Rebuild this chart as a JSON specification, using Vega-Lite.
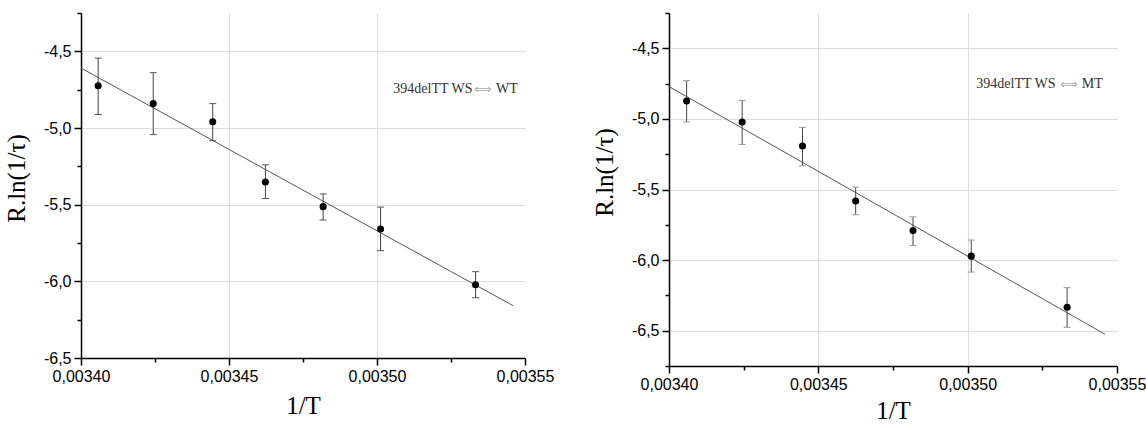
{
  "$schema": "https://vega.github.io/schema/vega-lite/v6.json",
  "background": "white",
  "padding": {"left": 4, "top": 12, "right": 0, "bottom": 0},
  "spacing": 38,
  "config": {
    "view": {"stroke": null},
    "axis": {
      "domainColor": "#000000", "domainWidth": 1.5,
      "tickColor": "#000000", "tickWidth": 1.5, "tickSize": 7,
      "labelFont": "Liberation Sans", "labelFontSize": 16, "labelColor": "#000000", "labelPadding": 3,
      "labelFlush": false, "labelOverlap": false,
      "titleFont": "Liberation Serif", "titleFontSize": 25, "titleFontWeight": "normal", "titleColor": "#000000",
      "gridColor": "#dddddd", "gridWidth": 1
    }
  },
  "datasets": {
    "wt": [
      {"x": 0.0034058, "y": -4.724, "lo": -4.912, "hi": -4.544},
      {"x": 0.0034244, "y": -4.841, "lo": -5.043, "hi": -4.639},
      {"x": 0.0034445, "y": -4.959, "lo": -5.083, "hi": -4.841},
      {"x": 0.0034623, "y": -5.352, "lo": -5.46, "hi": -5.24},
      {"x": 0.0034818, "y": -5.513, "lo": -5.6, "hi": -5.43},
      {"x": 0.0035012, "y": -5.659, "lo": -5.8, "hi": -5.516},
      {"x": 0.0035333, "y": -6.022, "lo": -6.107, "hi": -5.937}
    ],
    "mt": [
      {"x": 0.0034059, "y": -4.873, "lo": -5.022, "hi": -4.729},
      {"x": 0.0034245, "y": -5.022, "lo": -5.181, "hi": -4.869},
      {"x": 0.0034447, "y": -5.192, "lo": -5.332, "hi": -5.06},
      {"x": 0.0034625, "y": -5.582, "lo": -5.679, "hi": -5.483},
      {"x": 0.0034817, "y": -5.791, "lo": -5.897, "hi": -5.694},
      {"x": 0.0035012, "y": -5.972, "lo": -6.085, "hi": -5.858},
      {"x": 0.0035333, "y": -6.334, "lo": -6.476, "hi": -6.195}
    ],
    "fitwt": [{"x": 0.0034, "y": -4.609}, {"x": 0.003546, "y": -6.159}],
    "fitmt": [{"x": 0.0034, "y": -4.771}, {"x": 0.003546, "y": -6.525}],
    "labwt": [
      {"x": 0.0035055, "y": -4.774, "text": "394delTT WS", "part": "name"},
      {"x": 0.0035328, "y": -4.774, "text": "⟺", "part": "arrow"},
      {"x": 0.0035402, "y": -4.774, "text": "WT", "part": "name"}
    ],
    "labmt": [
      {"x": 0.0035029, "y": -4.784, "text": "394delTT WS", "part": "name"},
      {"x": 0.003531, "y": -4.784, "text": "⟺", "part": "arrow"},
      {"x": 0.0035382, "y": -4.784, "text": "MT", "part": "name"}
    ]
  },
  "hconcat": [
    {
      "width": 444, "height": 345,
      "resolve": {"axis": {"x": "independent", "y": "independent"}},
      "layer": [
        {
          "data": {"name": "fitwt"},
          "mark": {"type": "line", "color": "#555555", "strokeWidth": 1},
          "encoding": {
            "x": {"field": "x", "type": "quantitative", "scale": {"domain": [0.0034, 0.00355], "nice": false, "zero": false}, "axis": null},
            "y": {"field": "y", "type": "quantitative", "scale": {"domain": [-6.5, -4.25], "nice": false, "zero": false}, "axis": null}
          }
        },
        {
          "data": {"name": "wt"},
          "mark": {"type": "rule", "color": "#444444", "strokeWidth": 1},
          "encoding": {
            "x": {"field": "x", "type": "quantitative", "scale": {"domain": [0.0034, 0.00355], "nice": false, "zero": false},
                  "axis": {"orient": "bottom", "values": [0.003425, 0.003475, 0.003525], "labels": false, "grid": false, "domain": false, "tickSize": 4, "title": null}},
            "y": {"field": "lo", "type": "quantitative", "scale": {"domain": [-6.5, -4.25], "nice": false, "zero": false},
                  "axis": {"orient": "left", "values": [-4.25, -4.75, -5.25, -5.75, -6.25], "labels": false, "grid": false, "domain": false, "tickSize": 4, "title": null}},
            "y2": {"field": "hi"}
          }
        },
        {
          "data": {"name": "wt"},
          "mark": {"type": "tick", "orient": "horizontal", "size": 7, "thickness": 1, "color": "#555555", "opacity": 1},
          "encoding": {
            "x": {"field": "x", "type": "quantitative", "scale": {"domain": [0.0034, 0.00355], "nice": false, "zero": false}, "axis": null},
            "y": {"field": "lo", "type": "quantitative", "scale": {"domain": [-6.5, -4.25], "nice": false, "zero": false}, "axis": null}
          }
        },
        {
          "data": {"name": "wt"},
          "mark": {"type": "tick", "orient": "horizontal", "size": 7, "thickness": 1, "color": "#555555", "opacity": 1},
          "encoding": {
            "x": {"field": "x", "type": "quantitative", "scale": {"domain": [0.0034, 0.00355], "nice": false, "zero": false}, "axis": null},
            "y": {"field": "hi", "type": "quantitative", "scale": {"domain": [-6.5, -4.25], "nice": false, "zero": false}, "axis": null}
          }
        },
        {
          "data": {"name": "wt"},
          "mark": {"type": "point", "shape": "circle", "filled": true, "color": "#000000", "size": 50, "opacity": 1},
          "encoding": {
            "x": {"field": "x", "type": "quantitative", "scale": {"domain": [0.0034, 0.00355], "nice": false, "zero": false},
                  "axis": {"orient": "bottom", "values": [0.0034, 0.00345, 0.0035, 0.00355], "labelExpr": "replace(format(datum.value, '.5f'), '.', ',')",
                           "title": "1/T", "titlePadding": 9, "grid": true,
                           "gridOpacity": {"condition": {"test": "datum.value > 0.003545 || datum.value < 0.003405", "value": 0}, "value": 1}}},
            "y": {"field": "y", "type": "quantitative", "scale": {"domain": [-6.5, -4.25], "nice": false, "zero": false},
                  "axis": {"orient": "left", "values": [-4.5, -5, -5.5, -6, -6.5], "labelExpr": "replace(replace(format(datum.value, '.1f'), '.', ','), '\u2212', '-')",
                           "title": "R.ln(1/τ)", "titlePadding": 14, "titleY": 165, "grid": true}}
          }
        },
        {
          "data": {"name": "labwt"},
          "transform": [{"filter": "datum.part == 'name'"}],
          "mark": {"type": "text", "align": "left", "baseline": "alphabetic", "font": "Liberation Serif", "fontSize": 14, "color": "#333333"},
          "encoding": {
            "x": {"field": "x", "type": "quantitative", "scale": {"domain": [0.0034, 0.00355], "nice": false, "zero": false}, "axis": null},
            "y": {"field": "y", "type": "quantitative", "scale": {"domain": [-6.5, -4.25], "nice": false, "zero": false}, "axis": null},
            "text": {"field": "text"}
          }
        },
        {
          "data": {"name": "labwt"},
          "transform": [{"filter": "datum.part == 'arrow'"}],
          "mark": {"type": "text", "align": "left", "baseline": "alphabetic", "font": "DejaVu Sans", "fontSize": 12, "color": "#aaaaaa"},
          "encoding": {
            "x": {"field": "x", "type": "quantitative", "scale": {"domain": [0.0034, 0.00355], "nice": false, "zero": false}, "axis": null},
            "y": {"field": "y", "type": "quantitative", "scale": {"domain": [-6.5, -4.25], "nice": false, "zero": false}, "axis": null},
            "text": {"field": "text"}
          }
        }
      ]
    },
    {
      "width": 448, "height": 353,
      "resolve": {"axis": {"x": "independent", "y": "independent"}},
      "layer": [
        {
          "data": {"name": "fitmt"},
          "mark": {"type": "line", "color": "#555555", "strokeWidth": 1},
          "encoding": {
            "x": {"field": "x", "type": "quantitative", "scale": {"domain": [0.0034, 0.00355], "nice": false, "zero": false}, "axis": null},
            "y": {"field": "y", "type": "quantitative", "scale": {"domain": [-6.75, -4.25], "nice": false, "zero": false}, "axis": null}
          }
        },
        {
          "data": {"name": "mt"},
          "mark": {"type": "rule", "color": "#444444", "strokeWidth": 1},
          "encoding": {
            "x": {"field": "x", "type": "quantitative", "scale": {"domain": [0.0034, 0.00355], "nice": false, "zero": false},
                  "axis": {"orient": "bottom", "values": [0.003425, 0.003475, 0.003525], "labels": false, "grid": false, "domain": false, "tickSize": 4, "title": null}},
            "y": {"field": "lo", "type": "quantitative", "scale": {"domain": [-6.75, -4.25], "nice": false, "zero": false},
                  "axis": {"orient": "left", "values": [-4.25, -4.75, -5.25, -5.75, -6.25, -6.75], "labels": false, "grid": false, "domain": false, "tickSize": 4, "title": null}},
            "y2": {"field": "hi"}
          }
        },
        {
          "data": {"name": "mt"},
          "mark": {"type": "tick", "orient": "horizontal", "size": 7, "thickness": 1, "color": "#999999", "opacity": 1},
          "encoding": {
            "x": {"field": "x", "type": "quantitative", "scale": {"domain": [0.0034, 0.00355], "nice": false, "zero": false}, "axis": null},
            "y": {"field": "lo", "type": "quantitative", "scale": {"domain": [-6.75, -4.25], "nice": false, "zero": false}, "axis": null}
          }
        },
        {
          "data": {"name": "mt"},
          "mark": {"type": "tick", "orient": "horizontal", "size": 7, "thickness": 1, "color": "#999999", "opacity": 1},
          "encoding": {
            "x": {"field": "x", "type": "quantitative", "scale": {"domain": [0.0034, 0.00355], "nice": false, "zero": false}, "axis": null},
            "y": {"field": "hi", "type": "quantitative", "scale": {"domain": [-6.75, -4.25], "nice": false, "zero": false}, "axis": null}
          }
        },
        {
          "data": {"name": "mt"},
          "mark": {"type": "point", "shape": "circle", "filled": true, "color": "#000000", "size": 50, "opacity": 1},
          "encoding": {
            "x": {"field": "x", "type": "quantitative", "scale": {"domain": [0.0034, 0.00355], "nice": false, "zero": false},
                  "axis": {"orient": "bottom", "values": [0.0034, 0.00345, 0.0035, 0.00355], "labelExpr": "replace(format(datum.value, '.5f'), '.', ',')",
                           "title": "1/T", "titlePadding": 6, "grid": true,
                           "gridOpacity": {"condition": {"test": "datum.value > 0.003545 || datum.value < 0.003405", "value": 0}, "value": 1}}},
            "y": {"field": "y", "type": "quantitative", "scale": {"domain": [-6.75, -4.25], "nice": false, "zero": false},
                  "axis": {"orient": "left", "values": [-4.5, -5, -5.5, -6, -6.5], "labelExpr": "replace(replace(format(datum.value, '.1f'), '.', ','), '\u2212', '-')",
                           "title": "R.ln(1/τ)", "titlePadding": 14, "titleY": 159, "grid": true}}
          }
        },
        {
          "data": {"name": "labmt"},
          "transform": [{"filter": "datum.part == 'name'"}],
          "mark": {"type": "text", "align": "left", "baseline": "alphabetic", "font": "Liberation Serif", "fontSize": 14, "color": "#333333"},
          "encoding": {
            "x": {"field": "x", "type": "quantitative", "scale": {"domain": [0.0034, 0.00355], "nice": false, "zero": false}, "axis": null},
            "y": {"field": "y", "type": "quantitative", "scale": {"domain": [-6.75, -4.25], "nice": false, "zero": false}, "axis": null},
            "text": {"field": "text"}
          }
        },
        {
          "data": {"name": "labmt"},
          "transform": [{"filter": "datum.part == 'arrow'"}],
          "mark": {"type": "text", "align": "left", "baseline": "alphabetic", "font": "DejaVu Sans", "fontSize": 12, "color": "#aaaaaa"},
          "encoding": {
            "x": {"field": "x", "type": "quantitative", "scale": {"domain": [0.0034, 0.00355], "nice": false, "zero": false}, "axis": null},
            "y": {"field": "y", "type": "quantitative", "scale": {"domain": [-6.75, -4.25], "nice": false, "zero": false}, "axis": null},
            "text": {"field": "text"}
          }
        }
      ]
    }
  ]
}
